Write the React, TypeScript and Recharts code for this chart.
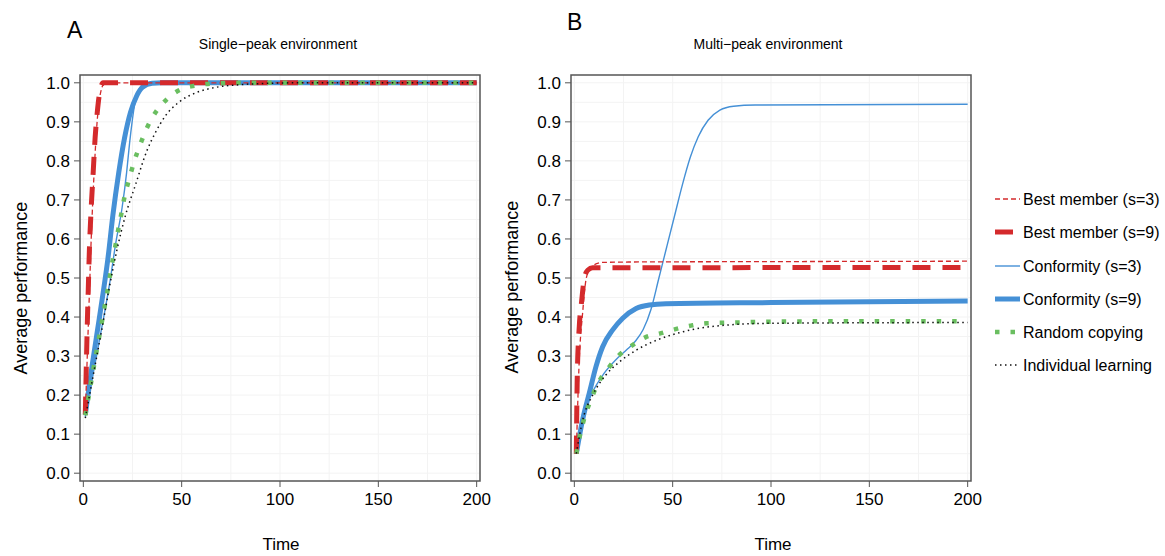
import React from 'react';
import { LineChart, Line, XAxis, YAxis, CartesianGrid, ReferenceArea } from 'recharts';

type P = [number, number];

// Panel A: single-peak environment  [time, average performance]
const A_BEST3: P[] = [[1, 0.15], [2, 0.3], [3, 0.45], [4, 0.6], [5, 0.72], [6, 0.82], [7, 0.9], [8, 0.95], [9, 0.98], [11, 1.0], [200, 1.0]];
const A_BEST9: P[] = [[1, 0.15], [1.5, 0.27], [2, 0.38], [2.5, 0.47], [3, 0.56], [4, 0.68], [5, 0.77], [6, 0.86], [7, 0.92], [8, 0.965], [9, 0.99], [10, 1.0], [200, 1.0]];
const A_CONF3: P[] = [[1, 0.145], [5, 0.255], [10, 0.39], [13.5, 0.49], [16.5, 0.59], [19.7, 0.68], [22, 0.77], [23.5, 0.845], [24.8, 0.9], [26, 0.942], [28, 0.98], [31, 0.997], [35, 1.0], [200, 1.0]];
const A_CONF9: P[] = [[1, 0.15], [4, 0.26], [7, 0.36], [10, 0.46], [12.5, 0.55], [15, 0.66], [18, 0.77], [21, 0.86], [24, 0.925], [27, 0.965], [30, 0.988], [35, 0.999], [40, 1.0], [200, 1.0]];
const A_RAND: P[] = [[1, 0.148], [2.7, 0.196], [4.3, 0.243], [5.9, 0.289], [7.5, 0.334], [9.2, 0.381], [10.9, 0.429], [12.6, 0.476], [14.1, 0.523], [15.8, 0.568], [17.5, 0.617], [19.3, 0.664], [21, 0.709], [23.4, 0.755], [25.9, 0.799], [29, 0.843], [32.5, 0.886], [37.1, 0.927], [42.7, 0.959], [49.5, 0.983], [57.3, 0.993], [65, 0.998], [80, 1.0], [200, 1.0]];
const A_INDIV: P[] = [[1, 0.141], [5, 0.25], [10, 0.385], [13, 0.47], [17, 0.57], [21.4, 0.66], [26.4, 0.737], [32.4, 0.827], [36.6, 0.872], [41.7, 0.915], [48.5, 0.95], [57, 0.974], [67, 0.988], [79, 0.995], [90, 0.998], [110, 1.0], [200, 1.0]];

// Panel B: multi-peak environment
const B_BEST3: P[] = [[1, 0.05], [2.5, 0.29], [4.2, 0.41], [5.9, 0.495], [7.6, 0.52], [11, 0.536], [14.4, 0.54], [30, 0.541], [100, 0.542], [200, 0.543]];
const B_BEST9: P[] = [[1, 0.05], [1.5, 0.25], [2.5, 0.375], [3.7, 0.44], [5.1, 0.5], [6.8, 0.52], [9.3, 0.526], [200, 0.527]];
const B_CONF3: P[] = [[1, 0.05], [4, 0.14], [9, 0.205], [15, 0.255], [21, 0.29], [27, 0.318], [31, 0.338], [35, 0.368], [39, 0.42], [43, 0.5], [47, 0.58], [51, 0.66], [55, 0.74], [59, 0.81], [63, 0.862], [68, 0.904], [74, 0.93], [81, 0.94], [92, 0.943], [200, 0.945]];
const B_CONF9: P[] = [[1, 0.05], [4.2, 0.137], [7.6, 0.205], [11, 0.273], [14.4, 0.324], [19.5, 0.367], [24.6, 0.397], [31.4, 0.422], [38.1, 0.431], [46.6, 0.434], [100, 0.437], [200, 0.441]];
const B_RAND: P[] = [[1, 0.05], [2.9, 0.098], [5.3, 0.145], [8.5, 0.189], [12, 0.23], [17, 0.267], [22.5, 0.301], [29, 0.326], [36.1, 0.348], [43.7, 0.358], [51.4, 0.369], [59.2, 0.378], [67, 0.384], [82.7, 0.386], [98.5, 0.388], [130, 0.389], [200, 0.389]];
const B_INDIV: P[] = [[1, 0.05], [4.2, 0.135], [9.3, 0.2], [16.1, 0.252], [22.9, 0.285], [31.4, 0.315], [41.5, 0.34], [55, 0.362], [72, 0.377], [100, 0.384], [200, 0.386]];

const SERIES_NAMES = ['Best member (s=3)', 'Best member (s=9)', 'Conformity (s=3)', 'Conformity (s=9)', 'Random copying', 'Individual learning'];
const X_TICKS = [0, 50, 100, 150, 200];
const Y_TICKS = [0, 0.1, 0.2, 0.3, 0.4, 0.5, 0.6, 0.7, 0.8, 0.9, 1.0];
const GRID_X = [0, 25, 50, 75, 100, 125, 150, 175, 200];
const GRID_Y = [0, 0.05, 0.1, 0.15, 0.2, 0.25, 0.3, 0.35, 0.4, 0.45, 0.5, 0.55, 0.6, 0.65, 0.7, 0.75, 0.8, 0.85, 0.9, 0.95, 1.0];
const X_DOMAIN: [number, number] = [-1.7, 201.7];
const Y_DOMAIN: [number, number] = [-0.02, 1.02];

const RED = '#d42a2c';
const BLUE = '#4590d6';
const GREEN = '#6abe60';
const FONT = '"Liberation Sans", Arial, Helvetica, sans-serif';

type Style = { color: string; width: number; dash?: string };
const STYLES: Style[] = [
  { color: RED, width: 1.3, dash: '5 3' },
  { color: RED, width: 5, dash: '18 12' },
  { color: BLUE, width: 1.4 },
  { color: BLUE, width: 5 },
  { color: GREEN, width: 4.5, dash: '4.5 11' },
  { color: '#111', width: 1.5, dash: '1.5 3.5' },
];
const DRAW_ORDER = [3, 2, 1, 0, 4, 5];

const toData = (pts: P[]) => pts.map(([t, v]) => ({ t, v }));

function Panel({ left, series }: { left: number; series: P[][] }) {
  return (
    <div style={{ position: 'absolute', left, top: 0 }}>
      <LineChart width={500} height={556} margin={{ top: 75, right: 20, bottom: 45, left: 10 }}>
        <CartesianGrid stroke="#f3f3f3" strokeWidth={1} horizontalValues={GRID_Y} verticalValues={GRID_X} />
        <XAxis
          type="number"
          dataKey="t"
          domain={X_DOMAIN}
          allowDataOverflow
          ticks={X_TICKS}
          interval={0}
          axisLine={false}
          tickLine={{ stroke: '#555', strokeWidth: 1 }}
          tickSize={6}
          tickMargin={6}
          height={30}
          tick={{ fill: '#000', fontSize: 17, fontFamily: FONT }}
        />
        <YAxis
          type="number"
          dataKey="v"
          domain={Y_DOMAIN}
          allowDataOverflow
          ticks={Y_TICKS}
          interval={0}
          tickFormatter={(v: number) => v.toFixed(1)}
          axisLine={false}
          tickLine={{ stroke: '#555', strokeWidth: 1 }}
          tickSize={6}
          tickMargin={4}
          width={70}
          tick={{ fill: '#000', fontSize: 17, fontFamily: FONT }}
        />
        {DRAW_ORDER.map((i) => (
          <Line
            key={i}
            data={toData(series[i])}
            dataKey="v"
            name={SERIES_NAMES[i]}
            type="monotone"
            stroke={STYLES[i].color}
            strokeWidth={STYLES[i].width}
            strokeDasharray={STYLES[i].dash}
            strokeLinecap="butt"
            dot={false}
            activeDot={false}
            isAnimationActive={false}
          />
        ))}
        <ReferenceArea
          x1={X_DOMAIN[0]}
          x2={X_DOMAIN[1]}
          y1={Y_DOMAIN[0]}
          y2={Y_DOMAIN[1]}
          fill="none"
          fillOpacity={0}
          stroke="#555"
          strokeWidth={1.5}
          ifOverflow="visible"
        />
      </LineChart>
    </div>
  );
}

function Legend() {
  const ys = [199, 232, 266, 299, 332, 365];
  return (
    <svg style={{ position: 'absolute', left: 985, top: 0 }} width={180} height={400}>
      {SERIES_NAMES.map((name, i) => (
        <g key={name}>
          <line
            x1={10}
            x2={35}
            y1={ys[i]}
            y2={ys[i]}
            stroke={STYLES[i].color}
            strokeWidth={STYLES[i].width}
            strokeDasharray={STYLES[i].dash}
          />
          <text x={38} y={ys[i] + 6} fontSize={16} fontFamily={FONT} fill="#000">
            {name}
          </text>
        </g>
      ))}
    </svg>
  );
}

function Overlay() {
  return (
    <svg style={{ position: 'absolute', left: 0, top: 0, pointerEvents: 'none' }} width={1165} height={556}>
      <text x={67} y={38} fontSize={23} fontFamily={FONT} fill="#000">A</text>
      <text x={567} y={30} fontSize={23} fontFamily={FONT} fill="#000">B</text>
      <text x={278} y={49} fontSize={14} fontFamily={FONT} fill="#000" textAnchor="middle">Single−peak environment</text>
      <text x={768} y={49} fontSize={14} fontFamily={FONT} fill="#000" textAnchor="middle">Multi−peak environment</text>
      <text x={281} y={550} fontSize={17} fontFamily={FONT} fill="#000" textAnchor="middle">Time</text>
      <text x={773} y={550} fontSize={17} fontFamily={FONT} fill="#000" textAnchor="middle">Time</text>
      <text transform="translate(27,288) rotate(-90)" fontSize={18} fontFamily={FONT} fill="#000" textAnchor="middle">Average performance</text>
      <text transform="translate(518,287) rotate(-90)" fontSize={18} fontFamily={FONT} fill="#000" textAnchor="middle">Average performance</text>
    </svg>
  );
}

export default function App() {
  const seriesA = [A_BEST3, A_BEST9, A_CONF3, A_CONF9, A_RAND, A_INDIV];
  const seriesB = [B_BEST3, B_BEST9, B_CONF3, B_CONF9, B_RAND, B_INDIV];
  return (
    <div style={{ position: 'absolute', left: 0, top: 0, width: 1165, height: 556, background: '#fff', overflow: 'hidden' }}>
      <Panel left={0} series={seriesA} />
      <Panel left={491} series={seriesB} />
      <Legend />
      <Overlay />
    </div>
  );
}
